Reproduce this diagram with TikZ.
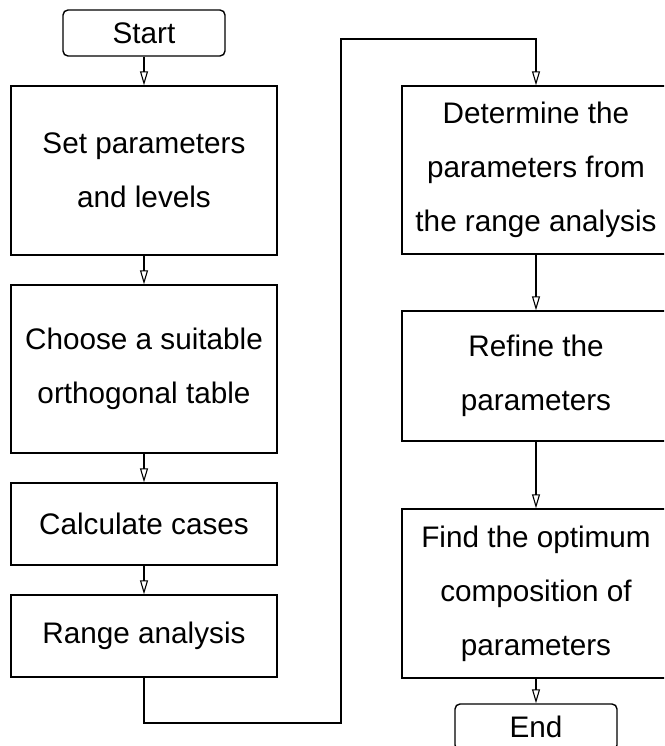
\documentclass[tikz,border=0pt]{standalone}
\usepackage{fontspec}
\setmainfont{Liberation Sans}
\usetikzlibrary{arrows.meta}
\begin{document}
\begin{tikzpicture}[x=1pt,y=-1pt,
  box/.style={draw, line width=1.4pt, align=center, inner sep=0pt,
    font=\fontsize{29.7}{54}\selectfont},
  term/.style={box, rounded corners=5pt},
  flow/.style={line width=2.4pt,
    -{Triangle[open, length=14pt, width=8pt, line width=1.1pt]}}]
\useasboundingbox (0,0) rectangle (664,746);
\clip (0,0) rectangle (664,746);
% left column
\node[term, minimum width=162pt, minimum height=46pt] (start) at (144,33) {Start};
\node[box, minimum width=266pt, minimum height=169pt] (set) at (144,170.5) {Set parameters\\and levels};
\node[box, minimum width=266pt, minimum height=168pt] (choose) at (144,369) {Choose a suitable\\orthogonal table};
\node[box, minimum width=266pt, minimum height=82pt] (calc) at (144,524) {Calculate cases};
\node[box, minimum width=266pt, minimum height=82pt] (range) at (144,636) {Range analysis};
% right column
\node[box, minimum width=268pt, minimum height=168pt] (det) at (536,170) {Determine the\\parameters from\\the range analysis};
\node[box, minimum width=268pt, minimum height=130pt] (refine) at (536,376) {Refine the\\parameters};
\node[box, minimum width=268pt, minimum height=169pt] (find) at (536,593.5) {Find the optimum\\composition of\\parameters};
\node[term, minimum width=162pt, minimum height=46pt] (end) at (536,727) {End};
% connectors
\coordinate (b1) at (144,723);
\coordinate (b2) at (341,723);
\coordinate (t1) at (341,39);
\coordinate (t2) at (536,39);
\draw[flow] (start) -- (set);
\draw[flow] (set) -- (choose);
\draw[flow] (choose) -- (calc);
\draw[flow] (calc) -- (range);
\draw[flow] (range.south) -- (b1) -- (b2) -- (t1) -- (t2) -- (det.north);
\draw[flow] (det) -- (refine);
\draw[flow] (refine) -- (find);
\draw[flow] (find) -- (end);
\end{tikzpicture}
\end{document}
